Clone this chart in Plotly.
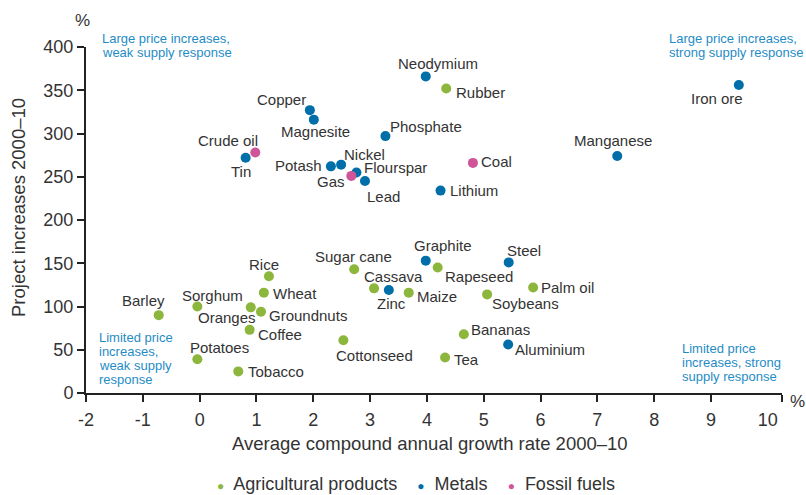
import plotly.graph_objects as go

# ---- data ----
agri_names = ["Rubber", "Rice", "Wheat", "Sorghum", "Oranges", "Groundnuts", "Coffee", "Barley",
              "Potatoes", "Tobacco", "Sugar cane", "Cassava", "Maize", "Cottonseed", "Rapeseed",
              "Soybeans", "Palm oil", "Bananas", "Tea"]
agri_x = [4.34, 1.22, 1.13, -0.04, 0.90, 1.08, 0.88, -0.72, -0.04, 0.68, 2.72, 3.07, 3.68, 2.53, 4.19,
          5.06, 5.87, 4.65, 4.32]
agri_y = [352, 135, 116, 100, 99, 94, 73, 90, 39, 25, 143, 121, 116, 61, 145, 114, 122, 68, 41]

metal_names = ["Neodymium", "Iron ore", "Copper", "Magnesite", "Phosphate", "Manganese", "Tin",
               "Potash", "Nickel", "Flourspar", "Lead", "Lithium", "Graphite", "Zinc", "Steel",
               "Aluminium"]
metal_x = [3.98, 9.49, 1.94, 2.01, 3.27, 7.35, 0.81, 2.31, 2.49, 2.76, 2.91, 4.24, 3.98, 3.33, 5.44, 5.43]
metal_y = [366, 356, 327, 316, 297, 274, 272, 262, 264, 255, 245, 234, 153, 119, 151, 56]

fossil_names = ["Crude oil", "Gas", "Coal"]
fossil_x = [0.98, 2.67, 4.81]
fossil_y = [278, 251, 266]

x_ticks = list(range(-2, 11))
x_tick_marks = list(range(-2, 10)) + [10.25]
y_ticks = [0, 50, 100, 150, 200, 250, 300, 350, 400]

series_names = ["Agricultural products", "Metals", "Fossil fuels"]

# ---- label placement (style): anchor, x offset px, y offset px (down positive) ----
label_style = {
    "Neodymium": ("center", 12, -13), "Rubber": ("left", 8, 4), "Iron ore": ("center", -22, 13),
    "Copper": ("right", -2, -11), "Magnesite": ("center", 2, 12), "Phosphate": ("left", 3, -10),
    "Manganese": ("center", -4, -15), "Crude oil": ("center", -27, -12), "Tin": ("center", -5, 14),
    "Potash": ("right", -7, -1), "Nickel": ("left", 1, -10), "Flourspar": ("left", 6, -5),
    "Gas": ("right", -4, 6), "Lead": ("left", 0, 15), "Coal": ("left", 6, -1),
    "Lithium": ("left", 7, 0), "Graphite": ("center", 17, -15), "Rapeseed": ("left", 5, 9),
    "Sugar cane": ("center", -1, -13), "Cassava": ("center", 19, -12), "Zinc": ("center", 3, 13),
    "Maize": ("left", 6, 4), "Rice": ("center", -5, -12), "Wheat": ("left", 7, 1),
    "Sorghum": ("center", 15, -11), "Oranges": ("center", -24, 10), "Groundnuts": ("left", 6, 4),
    "Coffee": ("left", 6, 5), "Barley": ("center", -15, -15), "Cottonseed": ("center", 31, 15),
    "Potatoes": ("center", 22, -12), "Tobacco": ("left", 8, 0), "Tea": ("left", 7, 2),
    "Bananas": ("left", 5, -5), "Steel": ("center", 15, -12), "Palm oil": ("left", 6, 0),
    "Soybeans": ("left", 3, 9), "Aluminium": ("left", 5, 5),
}

GREEN = "#8cb63c"
BLUE = "#006ea9"
PINK = "#cf5499"
NOTE = "#1f8cc6"
TXT = "#333333"
AX = "#222222"
FONT = "Liberation Sans, Arial, sans-serif"

# plot area in pixels
L, R, T, B = 86, 782, 47, 393
PW, PH = R - L, B - T


def px(x):
    return (x - L) / PW


def py(y):
    return (B - y) / PH


fig = go.Figure()
annotations = []
for name, xs, ys, labels, col in [
    (series_names[0], agri_x, agri_y, agri_names, GREEN),
    (series_names[1], metal_x, metal_y, metal_names, BLUE),
    (series_names[2], fossil_x, fossil_y, fossil_names, PINK),
]:
    fig.add_trace(go.Scatter(
        x=xs, y=ys, mode="markers", name=name, text=labels, hoverinfo="text",
        marker=dict(color=col, size=10), cliponaxis=False, showlegend=False,
    ))
    for xv, yv, lab in zip(xs, ys, labels):
        anc, dx, dy = label_style[lab]
        annotations.append(dict(x=xv, y=yv, xref="x", yref="y", text=lab, showarrow=False,
                                xanchor=anc, yanchor="middle", xshift=dx, yshift=-dy,
                                font=dict(size=15, color=TXT, family=FONT)))

notes = [
    (100, 38, ["Large price increases,", "weak supply response"]),
    (667, 38, ["Large price increases,", "strong supply response"]),
    (97, 337, ["Limited price", "increases,", "weak supply", "response"]),
    (680, 348, ["Limited price", "increases, strong", "supply response"]),
]
for x0, y0, lines in notes:
    for i, line in enumerate(lines):
        annotations.append(dict(xref="paper", yref="paper", x=px(x0), y=py(y0 + 14.3 * i), text=line,
                                showarrow=False, xanchor="left", yanchor="middle", align="left",
                                font=dict(size=13, color=NOTE, family=FONT)))
annotations += [
    dict(xref="paper", yref="paper", x=px(82), y=py(20), text="%",
         showarrow=False, xanchor="center", yanchor="middle", font=dict(size=17, color=TXT, family=FONT)),
    dict(xref="paper", yref="paper", x=px(797), y=py(401), text="%",
         showarrow=False, xanchor="center", yanchor="middle", font=dict(size=17, color=TXT, family=FONT)),
    dict(xref="paper", yref="paper", x=px(18), y=py(208), text="Project increases 2000–10",
         textangle=-90, showarrow=False, xanchor="center", yanchor="middle",
         font=dict(size=18.5, color=TXT, family=FONT)),
    dict(xref="paper", yref="paper", x=px(430), y=py(443),
         text="Average compound annual growth rate 2000–10", showarrow=False,
         xanchor="center", yanchor="middle", font=dict(size=18.5, color=TXT, family=FONT)),
]
# legend as a line of text with coloured bullets
legend_cols = [GREEN, BLUE, PINK]
legend_text = "    ".join(
    f"<span style='color:{c}; font-size:12px'>●</span>&nbsp; {n}" for c, n in zip(legend_cols, series_names))
annotations.append(dict(xref="paper", yref="paper", x=px(416), y=py(484), text=legend_text,
                        showarrow=False, xanchor="center", yanchor="middle",
                        font=dict(size=18, color=TXT, family=FONT)))

fig.update_layout(
    width=806, height=495,
    margin=dict(l=L, r=806 - R, t=T, b=495 - B, autoexpand=False),
    paper_bgcolor="white", plot_bgcolor="white",
    font=dict(family=FONT, color=TXT),
    annotations=annotations,
    showlegend=False,
    xaxis=dict(range=[-2, 10.25], tickvals=x_ticks, ticktext=[str(v) for v in x_ticks],
               showgrid=False, zeroline=False, showline=True, linecolor=AX, linewidth=2,
               ticks="", ticklabelstandoff=9,
               minor=dict(tickmode="array", tickvals=x_tick_marks, ticks="outside", ticklen=7,
                          tickwidth=2, tickcolor=AX, showgrid=False),
               tickfont=dict(size=18, color=TXT, family=FONT)),
    yaxis=dict(range=[0, 400], tickvals=y_ticks, showgrid=False, zeroline=False, showline=True,
               linecolor=AX, linewidth=2, ticks="outside", ticklen=7, tickwidth=2,
               tickcolor=AX, tickfont=dict(size=18, color=TXT, family=FONT)),
)

fig.write_html("out.html", config={"displayModeBar": False},
               post_script=["document.body.style.margin='0';"])
